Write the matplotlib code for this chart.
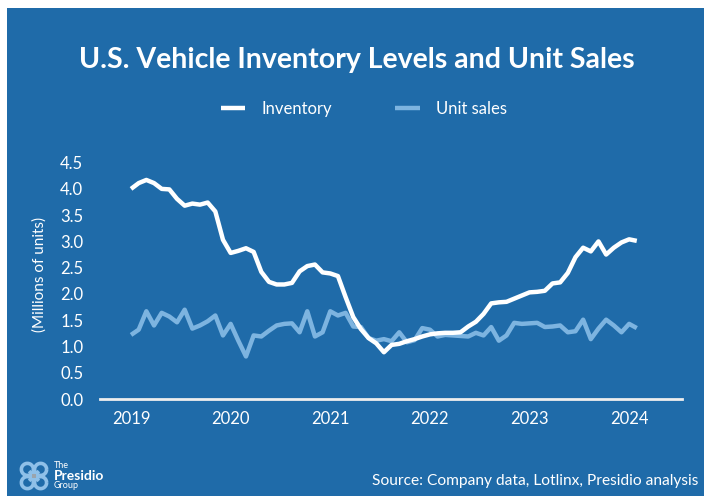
import matplotlib
matplotlib.use('Agg')
import matplotlib.pyplot as plt
from matplotlib.patches import Rectangle, Arc

# 13 four-week periods per year, starting with the first period of 2019
years = [2019, 2020, 2021, 2022, 2023, 2024]
periodsPerYear = 13

inventory = [4.00, 4.11, 4.17, 4.11, 4.00, 3.99, 3.81, 3.68, 3.72, 3.70,
             3.74, 3.57, 3.03, 2.78, 2.82, 2.87, 2.80, 2.42, 2.23, 2.18,
             2.18, 2.21, 2.43, 2.53, 2.56, 2.41, 2.39, 2.34, 1.94, 1.56,
             1.33, 1.16, 1.06, 0.89, 1.03, 1.05, 1.10, 1.14, 1.19, 1.23,
             1.25, 1.26, 1.26, 1.27, 1.38, 1.47, 1.62, 1.82, 1.84, 1.85,
             1.91, 1.97, 2.03, 2.04, 2.06, 2.20, 2.22, 2.40, 2.70, 2.88,
             2.81, 3.00, 2.75, 2.88, 2.98, 3.04, 3.01]

unitSales = [1.22, 1.32, 1.67, 1.40, 1.64, 1.57, 1.46, 1.70, 1.34, 1.40,
             1.48, 1.59, 1.21, 1.43, 1.11, 0.81, 1.21, 1.19, 1.30, 1.40,
             1.43, 1.44, 1.27, 1.67, 1.19, 1.27, 1.67, 1.59, 1.64, 1.38,
             1.37, 1.16, 1.11, 1.14, 1.10, 1.27, 1.08, 1.12, 1.35, 1.32,
             1.19, 1.22, 1.21, 1.20, 1.19, 1.26, 1.21, 1.37, 1.11, 1.21,
             1.45, 1.43, 1.44, 1.45, 1.37, 1.38, 1.40, 1.27, 1.29, 1.51,
             1.14, 1.34, 1.51, 1.40, 1.27, 1.43, 1.35]

yTicks = [0.0, 0.5, 1.0, 1.5, 2.0, 2.5, 3.0, 3.5, 4.0, 4.5]

bgBlue = '#1f6ba9'
lightBlue = '#7db4e0'
fontName = 'Lato'

W, H = 711, 496
fig = plt.figure(figsize=(W / 100, H / 100), dpi=100)
fig.patch.set_facecolor('white')

# blue card behind everything
card = fig.add_axes([7 / W, 0, 697 / W, 488 / H], zorder=-5)
card.set_facecolor(bgBlue)
card.set_xticks([])
card.set_yticks([])
for s in card.spines.values():
    s.set_visible(False)

ax = fig.add_axes([100 / W, 1 - 399 / H, 582 / W, 249 / H])
ax.set_facecolor('none')

periods = list(range(len(inventory)))
ax.plot(periods, inventory, color='white', lw=3.2, solid_capstyle='butt',
        solid_joinstyle='round', label='Inventory', zorder=3)
ax.plot(periods, unitSales, color=lightBlue, lw=3.2, solid_capstyle='butt',
        solid_joinstyle='round', label='Unit sales', zorder=2)

ax.set_xlim(-4.05, 71.9)
ax.set_ylim(0, 4.74)

ax.set_yticks(yTicks)
ax.set_yticklabels(['%.1f' % t for t in yTicks])
ax.set_xticks([(y - years[0]) * periodsPerYear for y in years])
ax.set_xticklabels([str(y) for y in years])

for side in ['top', 'right', 'left']:
    ax.spines[side].set_visible(False)
ax.spines['bottom'].set_color('#eeeeee')
ax.spines['bottom'].set_linewidth(2)
ax.tick_params(axis='both', length=0, colors='white', labelsize=12)
ax.tick_params(axis='y', pad=12)
ax.tick_params(axis='x', pad=9)
for lbl in ax.get_xticklabels() + ax.get_yticklabels():
    lbl.set_fontfamily(fontName)

ax.set_ylabel('(Millions of units)', color='white', fontsize=11,
              fontfamily=fontName, labelpad=10)

fig.text(357 / W, 1 - 60 / H, 'U.S. Vehicle Inventory Levels and Unit Sales',
         ha='center', va='center', color='white', fontsize=20.5,
         fontweight='bold', fontfamily=fontName)

leg = fig.legend(loc='center', bbox_to_anchor=(364 / W, 1 - 109 / H), ncol=2,
                 frameon=False, handlelength=1.45, columnspacing=3.8,
                 handletextpad=1.0, prop={'family': fontName, 'size': 12})
for t in leg.get_texts():
    t.set_color('white')

fig.text(698 / W, 1 - 481 / H, 'Source: Company data, Lotlinx, Presidio analysis',
         ha='right', va='center', color='white', fontsize=11.2,
         fontfamily=fontName)

# small company mark in the corner: two interlaced loops with a grey centre
logo = fig.add_axes([19 / W, 1 - 491 / H, 30 / W, 30 / H])
logo.set_xlim(0, 1)
logo.set_ylim(0, 1)
logo.set_aspect('equal')
logo.axis('off')
knot = '#8fc0e8'
for cx, cy in [(0.28, 0.72), (0.72, 0.72), (0.28, 0.28), (0.72, 0.28)]:
    logo.add_patch(Arc((cx, cy), 0.4, 0.4, lw=2.6, color=knot))
logo.plot([0.38, 0.62], [0.38, 0.62], color=knot, lw=2.6)
logo.plot([0.38, 0.62], [0.62, 0.38], color=knot, lw=2.6)
logo.add_patch(Rectangle((0.43, 0.43), 0.14, 0.14, facecolor='#9aa4ad', zorder=3))
fig.text(54 / W, 1 - 466 / H, 'The', color='white', fontsize=6.5, fontfamily=fontName,
         va='center')
fig.text(54 / W, 1 - 476 / H, 'Presidio', color='white', fontsize=10,
         fontweight='bold', fontfamily=fontName, va='center')
fig.text(54 / W, 1 - 486 / H, 'Group', color='white', fontsize=6.5, fontfamily=fontName,
         va='center')

fig.savefig('out.png', dpi=100, facecolor=fig.get_facecolor())
